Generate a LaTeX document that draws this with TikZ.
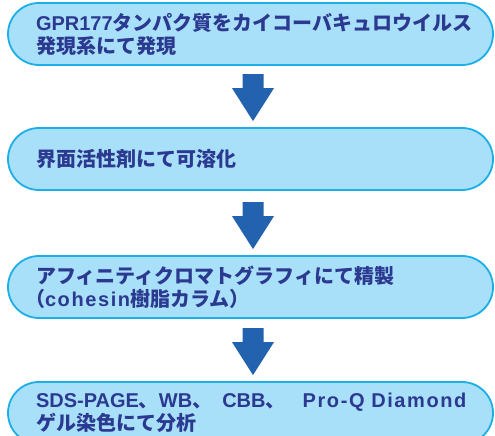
\documentclass[tikz,border=0pt]{standalone}
\usepackage{fontspec}
\setmainfont{Noto Sans CJK JP}
\newfontfamily\lat{Liberation Sans}
\newfontfamily\latwide{Liberation Sans}[LetterSpace=8]
\usetikzlibrary{calc}

\definecolor{boxfill}{HTML}{A9E0F9}
\definecolor{boxline}{HTML}{1CAEE6}
\definecolor{textblue}{HTML}{2B3990}
\definecolor{arrowblue}{HTML}{2262AE}

\begin{document}
\begin{tikzpicture}[x=1pt, y=1pt,
  stepbox/.style={draw=boxline, line width=1.8pt, fill=boxfill, rounded corners=31pt,
    minimum height=62pt, text width=429pt, inner xsep=28pt, inner ysep=0pt, align=left,
    text=textblue, font=\fontsize{20}{23}\selectfont\bfseries},
  flowarrow/.style={fill=arrowblue}]
\useasboundingbox (0, 0) rectangle (495, 436);
\clip (0, 0) rectangle (495, 436);
% the four steps
\node[stepbox] (gpr) at (250.5, 402) {{\lat GPR177}タンパク質をカイコーバキュロウイルス\\発現系にて発現};
\node[stepbox] (sol) at (250.5, 277) {界面活性剤にて可溶化};
\node[stepbox] (pur) at (250.5, 149) {アフィニティクロマトグラフィにて精製\\\hspace*{-11pt}（{\latwide cohesin}樹脂カラム）};
\node[stepbox] (ana) at (250.5, 23) {\mbox{{\lat SDS-PAGE}、{\lat WB}、\hspace{10pt}{\lat CBB}、\hspace{17pt}{\latwide Pro-Q Diamond}}\\ゲル染色にて分析};
% block arrows between them
\foreach \a/\b in {gpr/sol, pur/ana, sol/pur}
  \fill[flowarrow] ($(\b.north)+(2.5, 6)$) -- ++(21, 33) -- ++(-10.5, 0) -- ++(0, 14) -- ++(-21, 0) -- ++(0, -14) -- ++(-10.5, 0) -- cycle;
\end{tikzpicture}
\end{document}
